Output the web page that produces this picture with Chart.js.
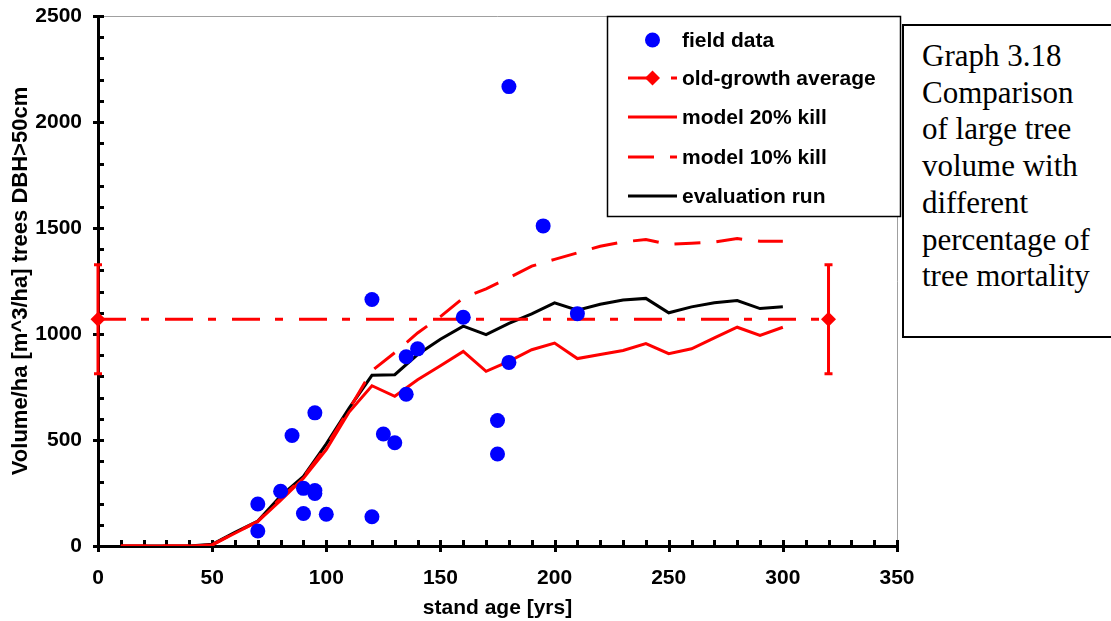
<!DOCTYPE html>
<html>
<head>
<meta charset="utf-8">
<title>Large tree volume vs stand age</title>
<script src="https://cdn.jsdelivr.net/npm/chart.js@4.4.0/dist/chart.umd.min.js"></script>
<style>
  html, body { margin: 0; padding: 0; background: #fff; }
  #wrap { position: relative; width: 1111px; height: 621px; overflow: hidden; }
  #caption {
    position: absolute;
    left: 902px;
    top: 24px;
    width: 230px;
    height: 314px;
    box-sizing: border-box;
    border: 2px solid #000;
    background: #fff;
    padding: 12px 0 0 18px;
    font-family: 'Liberation Serif', 'Times New Roman', serif;
    font-size: 31px;
    line-height: 36.7px;
    color: #000;
    white-space: nowrap;
  }
</style>
</head>
<body>
<div id="wrap">
  <canvas id="volumeChart" width="1111" height="621"></canvas>
  <div id="caption">Graph 3.18<br>Comparison<br>of large tree<br>volume with<br>different<br>percentage of<br>tree mortality</div>
</div>

<script>
// ---------- data ----------

// field plots: stand age [yrs] and measured volume [m^3/ha]
const fieldAge    = [70, 70, 80, 85, 90, 90, 95, 95, 95, 100, 120, 120, 125, 130, 135, 135, 140, 160, 175, 175, 180, 180, 195, 210];
const fieldVolume = [198, 71, 258, 521, 272, 153, 628, 262, 248, 150, 1163, 138, 528, 487, 893, 716, 930, 1079, 592, 434, 2167, 866, 1510, 1096];

// old-growth average with its spread
const ogAge    = [0, 320];
const ogVolume = [1070, 1070];
const ogError  = [257, 257];

// model runs, every 10 years
const modelAge = [10, 20, 30, 40, 50, 60, 70, 80, 90, 100, 110, 120, 130, 140, 150,
                  160, 170, 180, 190, 200, 210, 220, 230, 240, 250, 260, 270, 280, 290, 300];
const kill20  = [0, 0, 0, 0, 5, 60, 115, 215, 320, 455, 632, 756, 706, 784, 850,
                 918, 824, 871, 926, 957, 884, 903, 922, 955, 907, 930, 982, 1032, 993, 1032];
const kill10  = [0, 0, 0, 0, 5, 62, 116, 225, 325, 470, 645, 827, 912, 1005, 1082,
                 1170, 1213, 1265, 1320, 1352, 1383, 1414, 1434, 1446, 1423, 1428, 1434, 1450, 1437, 1437];
const evalRun = [0, 0, 0, 0, 8, 65, 118, 235, 328, 482, 650, 805, 808, 903, 975,
                 1037, 997, 1050, 1095, 1147, 1112, 1140, 1160, 1168, 1100, 1128, 1147, 1158, 1120, 1128];

// axis ticks
const xTickValues = [0, 50, 100, 150, 200, 250, 300, 350];
const yTickValues = [0, 500, 1000, 1500, 2000, 2500];

const RED = '#ff0000';
const BLUE = '#0000ff';
const FONT = "'Liberation Sans', Arial, Helvetica, sans-serif";

function toXY(xs, ys) {
    return xs.map((x, i) => ({ x: x, y: ys[i] }));
}

// ---------- plugins ----------

// thin plot frame plus Excel-style major/minor tick marks
const axisDecor = {
    id: 'axisDecor',
    beforeDatasetsDraw(chart) {
        const { ctx, chartArea: a, scales: { x, y } } = chart;
        ctx.save();

        ctx.strokeStyle = '#a0a0a0';
        ctx.lineWidth = 1;
        ctx.beginPath();
        ctx.moveTo(a.left, a.top + 0.5);
        ctx.lineTo(a.right + 0.5, a.top + 0.5);
        ctx.lineTo(a.right + 0.5, a.bottom);
        ctx.stroke();

        ctx.strokeStyle = '#000';
        ctx.lineWidth = 3;
        ctx.beginPath();
        // y axis: major ticks cross the axis, minor ticks point inward
        const yMinor = (yTickValues[1] - yTickValues[0]) / 5;
        for (let v = y.min; v <= y.max; v += yMinor) {
            const py = Math.round(y.getPixelForValue(v)) + 0.5;
            if (yTickValues.includes(v)) {
                ctx.moveTo(a.left - 5, py);
                ctx.lineTo(a.left + 6, py);
            } else {
                ctx.moveTo(a.left, py);
                ctx.lineTo(a.left + 6, py);
            }
        }
        // x axis
        const xMinor = (xTickValues[1] - xTickValues[0]) / 5;
        for (let v = x.min; v <= x.max; v += xMinor) {
            const px = Math.round(x.getPixelForValue(v)) + 0.5;
            if (xTickValues.includes(v)) {
                ctx.moveTo(px, a.bottom - 6);
                ctx.lineTo(px, a.bottom + 6);
            } else {
                ctx.moveTo(px, a.bottom);
                ctx.lineTo(px, a.bottom - 6);
            }
        }
        ctx.stroke();
        ctx.restore();
    }
};

// vertical error bars on the old-growth average
const errorBars = {
    id: 'errorBars',
    afterDatasetsDraw(chart) {
        const { ctx, scales: { x, y } } = chart;
        ctx.save();
        ctx.strokeStyle = RED;
        ctx.lineWidth = 3;
        ogAge.forEach((age, i) => {
            const px = x.getPixelForValue(age);
            const top = y.getPixelForValue(ogVolume[i] + ogError[i]);
            const bot = y.getPixelForValue(ogVolume[i] - ogError[i]);
            ctx.beginPath();
            ctx.moveTo(px, top);
            ctx.lineTo(px, bot);
            ctx.moveTo(px - 4, top);
            ctx.lineTo(px + 4, top);
            ctx.moveTo(px - 4, bot);
            ctx.lineTo(px + 4, bot);
            ctx.stroke();
        });
        ctx.restore();
    }
};

// boxed legend in the upper right of the plot
const boxLegend = {
    id: 'boxLegend',
    afterDraw(chart) {
        const ctx = chart.ctx;
        const box = { left: 607, top: 16, right: 900, bottom: 216 };
        ctx.save();
        ctx.fillStyle = '#fff';
        ctx.fillRect(box.left, box.top, box.right - box.left, box.bottom - box.top);
        ctx.strokeStyle = '#000';
        ctx.lineWidth = 1.5;
        ctx.strokeRect(box.left + 0.5, box.top + 0.5, box.right - box.left, box.bottom - box.top);

        const x0 = 628, x1 = 677, xText = 682;
        const rows = [40, 78, 117, 157, 196];
        chart.data.datasets.forEach((ds, i) => {
            const yRow = rows[i];
            const xMid = (x0 + x1) / 2;
            if (ds.showLine) {
                ctx.save();
                ctx.strokeStyle = ds.borderColor;
                ctx.lineWidth = ds.borderWidth;
                ctx.setLineDash(ds.borderDash || []);
                ctx.beginPath();
                ctx.moveTo(x0, yRow);
                ctx.lineTo(x1, yRow);
                ctx.stroke();
                ctx.restore();
            }
            if (ds.pointRadius > 0) {
                ctx.fillStyle = ds.pointBackgroundColor;
                ctx.strokeStyle = ds.pointBackgroundColor;
                Chart.helpers.drawPoint(ctx, {
                    pointStyle: ds.pointStyle || 'circle',
                    radius: ds.pointRadius,
                    borderWidth: 0,
                    rotation: 0
                }, xMid, yRow);
            }
            ctx.fillStyle = '#000';
            ctx.font = 'bold 21px ' + FONT;
            ctx.textBaseline = 'middle';
            ctx.textAlign = 'left';
            ctx.fillText(ds.label, xText, yRow + 1);
        });
        ctx.restore();
    }
};

// ---------- chart ----------

const tickFont = { family: FONT, size: 21, weight: 'bold' };

new Chart(document.getElementById('volumeChart'), {
    type: 'scatter',
    data: {
        datasets: [
            {
                label: 'field data',
                data: toXY(fieldAge, fieldVolume),
                showLine: false,
                pointRadius: 7.5,
                pointStyle: 'circle',
                pointBackgroundColor: BLUE,
                pointBorderColor: BLUE,
                pointBorderWidth: 0
            },
            {
                label: 'old-growth average',
                data: toXY(ogAge, ogVolume),
                showLine: true,
                borderColor: RED,
                borderWidth: 3,
                borderDash: [28, 15, 8, 16],
                pointStyle: 'rectRot',
                pointRadius: 7.5,
                pointBackgroundColor: RED,
                pointBorderColor: RED,
                pointBorderWidth: 0,
                clip: false
            },
            {
                label: 'model 20% kill',
                data: toXY(modelAge, kill20),
                showLine: true,
                borderColor: RED,
                borderWidth: 3,
                pointRadius: 0
            },
            {
                label: 'model 10% kill',
                data: toXY(modelAge, kill10),
                showLine: true,
                borderColor: RED,
                borderWidth: 3,
                borderDash: [26, 16],
                pointRadius: 0
            },
            {
                label: 'evaluation run',
                data: toXY(modelAge, evalRun),
                showLine: true,
                borderColor: '#000',
                borderWidth: 3,
                pointRadius: 0
            }
        ]
    },
    options: {
        responsive: false,
        animation: false,
        devicePixelRatio: 1,
        layout: { padding: { top: 16, right: 214, bottom: 0, left: 0 } },
        plugins: {
            legend: { display: false },
            tooltip: { enabled: false }
        },
        scales: {
            x: {
                type: 'linear',
                min: 0,
                max: 350,
                afterBuildTicks: scale => { scale.ticks = xTickValues.map(v => ({ value: v })); },
                afterFit: scale => {
                    scale.height = 75;
                    scale.paddingLeft = 0;
                    scale.paddingRight = 0;
                },
                grid: { drawOnChartArea: false, drawTicks: false },
                border: { display: true, color: '#000', width: 3 },
                ticks: { color: '#000', font: tickFont, padding: 20, maxRotation: 0, callback: v => String(v) },
                title: {
                    display: true,
                    text: 'stand age [yrs]',
                    color: '#000',
                    font: tickFont,
                    padding: { top: 0, bottom: 0 }
                }
            },
            y: {
                type: 'linear',
                min: 0,
                max: 2500,
                afterBuildTicks: scale => { scale.ticks = yTickValues.map(v => ({ value: v })); },
                afterFit: scale => {
                    scale.width = 98;
                    scale.paddingTop = 0;
                    scale.paddingBottom = 0;
                },
                grid: { drawOnChartArea: false, drawTicks: false },
                border: { display: true, color: '#000', width: 3 },
                ticks: { color: '#000', font: tickFont, padding: 16, callback: v => String(v) },
                title: {
                    display: true,
                    text: 'Volume/ha [m^3/ha] trees DBH>50cm',
                    color: '#000',
                    font: { family: FONT, size: 22, weight: 'bold' },
                    padding: { top: 8, bottom: 0 }
                }
            }
        }
    },
    plugins: [axisDecor, errorBars, boxLegend]
});
</script>
</body>
</html>
